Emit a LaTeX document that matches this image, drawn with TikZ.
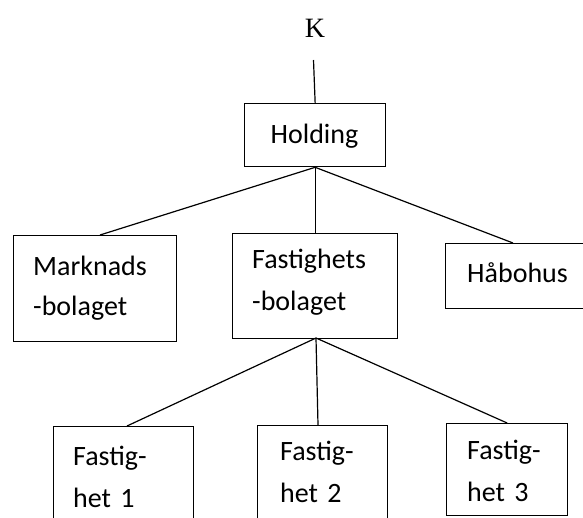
\documentclass[tikz,border=0pt]{standalone}
\usepackage{fontspec}
\setmainfont{Carlito}
\newfontfamily\kfont{Liberation Serif}
\usetikzlibrary{calc}
\tikzset{
  boxnode/.style={draw=black, line width=1.3pt, inner sep=0pt, anchor=north west},
  lbl/.style={inner sep=0pt, anchor=base west, font=\fontsize{28}{42}\selectfont, text width=4cm, align=left},
  conn/.style={draw=black, line width=1.2pt}
}
\begin{document}
\begin{tikzpicture}[x=1pt,y=-1pt]
\useasboundingbox (0,0) rectangle (583,517);
\clip (0,0) rectangle (583,517);
% boxes
\node[boxnode, minimum width=141pt, minimum height=63pt] (hold) at (244,103) {};
\node[boxnode, minimum width=163pt, minimum height=106pt] (mark) at (13,235) {};
\node[boxnode, minimum width=165pt, minimum height=105pt] (fast) at (232,233) {};
\node[boxnode, minimum width=160pt, minimum height=65pt] (hab) at (445,243) {};
\node[boxnode, minimum width=140pt, minimum height=115pt] (f1) at (53,426) {};
\node[boxnode, minimum width=130pt, minimum height=115pt] (f2) at (257,425) {};
\node[boxnode, minimum width=121pt, minimum height=92pt] (f3) at (446,423) {};
% texts
\node[inner sep=0pt, anchor=base, font=\kfont\fontsize{28}{34}\selectfont] (k) at (315,37) {K};
\node[inner sep=0pt, anchor=base, font=\fontsize{28}{42}\selectfont] (holdt) at (314.5,143) {Holding};
\node[lbl] (markt) at (33,275) {Marknads\\[-2pt]-bolaget};
\node[lbl] (fastt) at (252,268) {Fastighets\\-bolaget};
\node[lbl] (habt) at (467,282) {Håbohus};
\node[lbl] (f1t) at (73,465) {Fastig-\\het 1};
\node[lbl] (f2t) at (280,460) {Fastig-\\het 2};
\node[lbl] (f3t) at (467,459) {Fastig-\\het 3};
% connector points
\coordinate (kc) at (313.5,60);
\coordinate (markin) at (100,235);
\coordinate (habin) at (513,243);
\coordinate (fastout) at (316,338);
\coordinate (f1in) at (127,426);
\coordinate (f2in) at (318,425);
% connectors
\draw[conn] (kc) -- (hold.north);
\draw[conn] (hold.south) -- (markin);
\draw[conn] (hold.south) -- (fast.north);
\draw[conn] (hold.south) -- (habin);
\draw[conn] (fastout) -- (f1in);
\draw[conn] (fastout) -- (f2in);
\draw[conn] (fastout) -- (f3.north);
\end{tikzpicture}
\end{document}
